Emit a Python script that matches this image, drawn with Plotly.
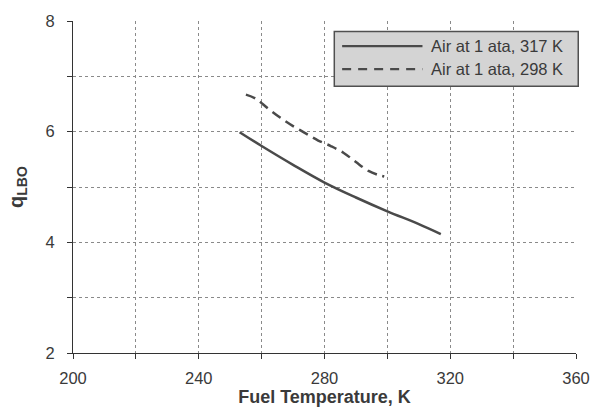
import plotly.graph_objects as go

# Data
temp_317 = [253, 260, 270, 280, 290, 300, 310, 317]
q_317 = [5.99, 5.74, 5.40, 5.08, 4.81, 4.56, 4.33, 4.15]

temp_298 = [255, 258, 262, 266, 270, 274, 278, 282, 286, 290, 294, 297, 299]
q_298 = [6.67, 6.60, 6.42, 6.25, 6.10, 5.97, 5.84, 5.74, 5.62, 5.45, 5.29, 5.22, 5.19]

legend_labels = ["Air at 1 ata, 317 K", "Air at 1 ata, 298 K"]

line_color = "#4a4a4a"
text_color = "#3a3a3a"
grid_color = "#8a8a8a"
FONT = "Liberation Sans, Arial"

fig = go.Figure()
fig.add_trace(go.Scatter(x=temp_317, y=q_317, mode="lines", name=legend_labels[0],
                         line=dict(color=line_color, width=2.5, shape="spline")))
fig.add_trace(go.Scatter(x=temp_298, y=q_298, mode="lines", name=legend_labels[1],
                         line=dict(color=line_color, width=2.5, dash="10px,6px", shape="spline")))

axis_common = dict(
    showline=True, linecolor="#333333", linewidth=1.2,
    ticks="outside", ticklen=5, tickcolor="#333333", tickwidth=1,
    showgrid=True, gridcolor=grid_color, gridwidth=1, griddash="dot",
    zeroline=False,
    tickfont=dict(family=FONT, size=16.5, color=text_color),
)

fig.update_xaxes(**axis_common, range=[200, 360], dtick=40, tick0=200,
                 minor=dict(dtick=20, showgrid=True, gridcolor=grid_color, griddash="dot",
                            ticks="outside", ticklen=5, tickcolor="#333333"),
                 ticklabelstandoff=5,
                 title=dict(text="<b>Fuel Temperature, K</b>", standoff=2,
                            font=dict(family=FONT, size=18, color=text_color)))
fig.update_yaxes(**axis_common, range=[2, 8], dtick=2, tick0=2,
                 minor=dict(dtick=1, showgrid=True, gridcolor=grid_color, griddash="dot",
                            ticks="outside", ticklen=5, tickcolor="#333333"),
                 ticklabelstandoff=9,
                 title=dict(text="<b>q<sub>LBO</sub></b>", standoff=16,
                            font=dict(family=FONT, size=20, color=text_color)))

# Overlay axes to draw the inner half of the crossing tick marks
fig.update_layout(
    xaxis2=dict(overlaying="x", anchor="y", range=[200, 360], dtick=20, tick0=200,
                ticks="inside", ticklen=5, tickcolor="#333333", showticklabels=False,
                showgrid=False, showline=False, zeroline=False, side="bottom"),
    yaxis2=dict(overlaying="y", anchor="x", range=[2, 8], dtick=1, tick0=2,
                ticks="inside", ticklen=5, tickcolor="#333333", showticklabels=False,
                showgrid=False, showline=False, zeroline=False, side="left"),
)

# Custom legend box (paper coordinates)
x0, x1 = 73.3, 586.7
y0, y1 = 414 - 353.3, 414 - 13.3
W, H = x1 - x0, y1 - y0

def px(x):
    return (x - x0) / W

def py(y):
    return (414 - y - y0) / H

fig.add_shape(type="rect", xref="paper", yref="paper",
              x0=px(340), x1=px(589), y0=py(80), y1=py(24),
              fillcolor="#d4d4d4", line=dict(color="#505050", width=1.5), layer="above")
for i, (lab, dash) in enumerate(zip(legend_labels, ["solid", "9px,7px"])):
    yy = [39, 62.5][i]
    fig.add_shape(type="line", xref="paper", yref="paper",
                  x0=px(348), x1=px(430), y0=py(yy), y1=py(yy),
                  line=dict(color=line_color, width=2.2, dash=dash), layer="above")
    fig.add_annotation(xref="paper", yref="paper", x=px(437), y=py(yy),
                       xanchor="left", yanchor="middle", showarrow=False, text=lab,
                       font=dict(family=FONT, size=16.5, color=text_color))

fig.update_layout(
    width=602, height=414,
    margin=dict(l=73.3, r=602 - 586.7, t=13.3, b=414 - 353.3),
    paper_bgcolor="white", plot_bgcolor="white",
    showlegend=False,
)

fig.write_html("out.html")
